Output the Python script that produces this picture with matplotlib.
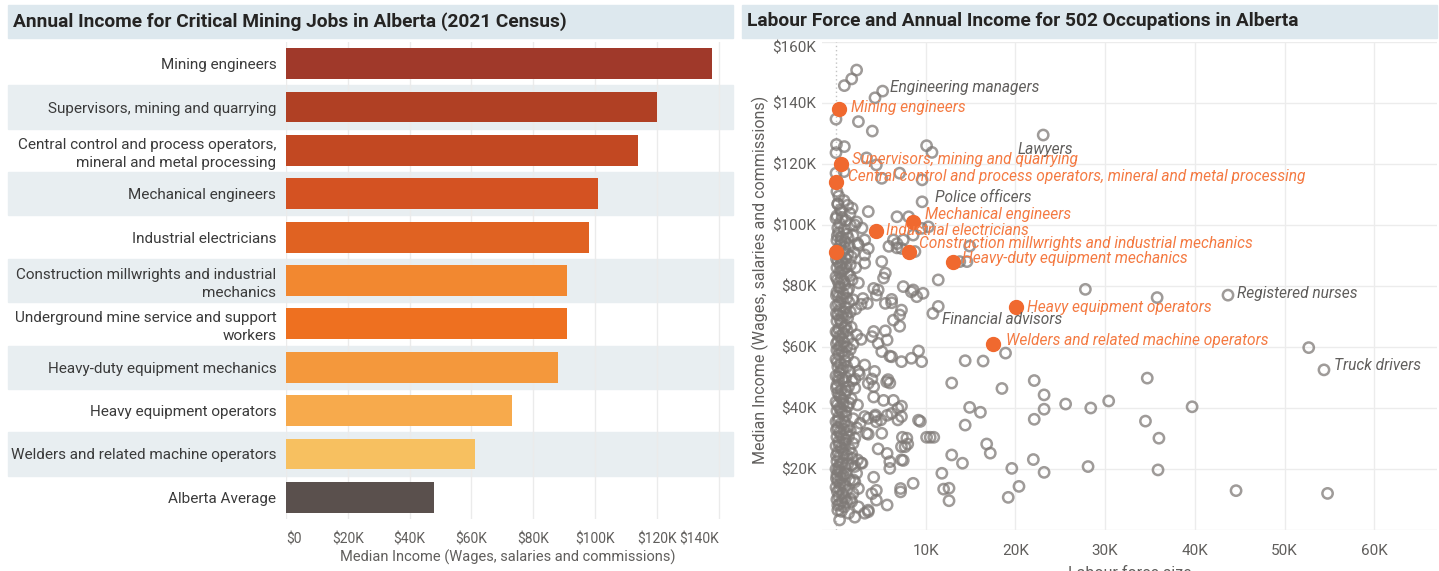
import matplotlib.pyplot as plt
from matplotlib.patches import Rectangle
from matplotlib import transforms

W, H = 1439, 571
plt.rcParams['font.family'] = ['Roboto', 'DejaVu Sans']

# ---- left chart: median income of critical mining jobs ----
jobs = ["Mining engineers",
        "Supervisors, mining and quarrying",
        "Central control and process operators,\nmineral and metal processing",
        "Mechanical engineers",
        "Industrial electricians",
        "Construction millwrights and industrial\nmechanics",
        "Underground mine service and support\nworkers",
        "Heavy-duty equipment mechanics",
        "Heavy equipment operators",
        "Welders and related machine operators",
        "Alberta Average"]
income_k = [138, 120, 114, 101, 98, 91, 91, 88, 73, 61, 48]
bar_colors = ['#a0392a', '#b04024', '#c24822', '#d45222', '#e06222', '#f28830',
              '#ee7020', '#f4983c', '#f7aa4c', '#f7c060', '#5a504d']

# ---- right chart: labour force (K) vs median income (K) ----
# mining jobs (same order as above, without Alberta Average)
mining_force_k = [0.3, 0.6, 0.05, 8.55, 4.5, 8.1, 0.05, 13.0, 20.1, 17.5]
mining_label_offset = [(12, 2), (11, 4), (12, 6), (12, 7), (10, 1), (10, 9), None, (9, 3), (11, 0), (13, 3)]

labelled_occ = ["Engineering managers", "Lawyers", "Police officers",
                "Registered nurses", "Financial advisors", "Truck drivers"]
labelled_force_k = [5.2, 23.1, 9.6, 43.7, 10.8, 54.4]
labelled_income_k = [143.9, 129.5, 107.6, 77.0, 71.0, 52.5]
labelled_offset = [(7, 4), (-26, -14), (13, 4), (9, 2), (9, -6), (10, 4)]

# other occupations (labour force K, income K)
other_occ = [
    (2.3, 150.8), (1.75, 147.9), (0.93, 145.7), (4.35, 141.7), (0.0, 134.7), (2.5, 133.9),
    (4.05, 130.8), (0.05, 126.4), (0.93, 125.7), (0.0, 123.7), (10.1, 126.0), (10.7, 123.8),
    (3.4, 122.0), (0.0, 117.0), (0.9, 117.5), (4.5, 119.7), (5.1, 115.3), (7.1, 117.0),
    (9.6, 114.8), (0.2, 106.8), (0.6, 104.4), (0.0, 102.2), (1.56, 103.8), (3.6, 104.4),
    (6.8, 102.7), (8.1, 102.7), (2.1, 100.0), (2.9, 99.0), (10.3, 99.4), (9.55, 98.9), (8.6, 96.7),
    (14.9, 93.1), (13.8, 88.0), (14.6, 88.0), (11.4, 82.0), (5.1, 88.0), (5.5, 84.2), (5.3, 82.6),
    (3.2, 90.2), (3.2, 87.5), (6.4, 95.1), (5.9, 93.0), (6.8, 92.5), (7.5, 79.8), (8.6, 78.7),
    (9.7, 77.6), (9.0, 76.5), (11.4, 73.3), (4.2, 79.2), (4.7, 78.7), (6.2, 75.6), (3.0, 75.9),
    (3.5, 74.3), (27.8, 78.9), (2.5, 93.4), (3.2, 95.1), (3.6, 92.3), (6.8, 93.9), (7.5, 95.1),
    (7.3, 92.3), (8.8, 91.3), (8.4, 78.1), (4.5, 77.0), (5.5, 74.3), (6.2, 74.5), (35.8, 76.2),
    (7.3, 72.1), (7.1, 70.5), (6.4, 68.8), (7.1, 66.8), (5.5, 65.3), (4.2, 65.1), (5.7, 62.3),
    (4.7, 61.2), (4.0, 63.4),
    (5.1, 58.5), (6.2, 56.8), (8.4, 56.3), (9.2, 58.7), (9.55, 55.2), (7.3, 55.2), (14.4, 55.5),
    (16.4, 55.4), (18.9, 58.0), (6.0, 57.0), (4.3, 52.0), (5.8, 49.3), (4.0, 49.5), (2.5, 52.0),
    (2.1, 49.5), (3.2, 54.1), (12.9, 48.2), (18.5, 46.4), (22.1, 49.0), (52.7, 59.8), (34.7, 49.8),
    (6.0, 48.2), (5.65, 48.6), (3.6, 48.1), (4.2, 47.0),
    (23.2, 44.3), (23.2, 39.6), (22.1, 36.3), (25.6, 41.3), (28.4, 40.0), (30.4, 42.3), (39.7, 40.4),
    (34.5, 35.7), (36.0, 30.1), (14.9, 40.2), (16.1, 38.6), (14.4, 34.4), (6.9, 36.1), (9.2, 36.0),
    (9.4, 35.6), (10.1, 30.4), (10.5, 30.4), (10.9, 30.4), (7.3, 40.6), (6.9, 39.9), (6.4, 42.5),
    (6.2, 38.2), (5.7, 37.6), (5.3, 42.5), (4.2, 43.6), (3.4, 31.7), (3.6, 36.6), (2.7, 35.0),
    (4.4, 37.7), (5.0, 36.1), (7.4, 30.4), (7.9, 30.1), (7.3, 37.2), (4.35, 37.2), (3.2, 37.2),
    (5.1, 31.7), (3.6, 31.4), (4.5, 35.5), (2.1, 30.1), (1.4, 30.6),
    (16.8, 28.2), (17.2, 25.2), (12.9, 24.6), (14.1, 21.9), (11.8, 18.6), (12.0, 13.4), (12.6, 13.7),
    (12.6, 9.6), (19.6, 20.2), (22.0, 23.1), (23.2, 18.9), (28.1, 20.8), (20.4, 14.3), (19.2, 10.7),
    (35.9, 19.7), (44.6, 12.9), (54.8, 12.0), (8.6, 15.3), (7.2, 13.6), (7.2, 12.5), (7.3, 23.0),
    (7.3, 27.3), (8.0, 28.2), (5.7, 25.1), (6.0, 22.4), (6.0, 20.2), (4.7, 26.6), (4.2, 17.3),
    (4.0, 11.9), (4.5, 13.0), (4.5, 9.8), (5.7, 8.2), (3.6, 6.5), (3.2, 5.5), (2.1, 4.2), (0.4, 3.3),
    (2.8, 22.0), (2.3, 18.6), (1.95, 16.4), (2.1, 20.8), (1.6, 10.3), (1.2, 9.2), (3.6, 6.0),
    (2.5, 7.6), (0.6, 6.1), (2.9, 21.9), (1.75, 21.3), (1.75, 25.1), (1.9, 28.4), (2.1, 15.8),
    (2.5, 13.6), (1.9, 12.0), (1.75, 9.3), (7.5, 22.8), (7.7, 27.3),
    # dense column of small occupations
    (0.1, 111), (0.3, 109.5), (0.9, 108), (0.2, 107), (1.3, 106.5), (0.5, 105), (1.8, 105.5),
    (0.1, 103), (0.7, 102.5), (1.1, 101.5), (0.4, 100.5), (1.6, 100), (2.3, 101), (0.2, 99),
    (0.9, 98.5), (0.3, 97.5), (1.2, 97), (0.6, 96), (1.9, 96.5), (0.1, 95), (1.0, 94.5), (2.4, 94),
    (0.5, 93.5), (1.5, 93), (0.2, 92), (0.8, 91.5), (1.3, 90.5), (2.0, 91), (0.4, 89.5), (1.1, 89),
    (0.2, 88), (0.7, 87.5), (1.6, 87), (0.1, 86), (0.9, 85.5), (2.2, 86), (0.4, 84.5), (1.3, 84),
    (0.0, 83), (0.6, 82.5), (1.8, 82), (0.3, 81), (1.0, 80.5), (2.5, 81), (0.5, 79.5), (1.4, 79),
    (0.1, 78), (0.8, 77.5), (0.3, 76.5), (1.2, 76), (1.9, 75.5), (0.5, 74.5), (0.0, 73.5), (1.0, 73),
    (0.4, 72), (1.6, 71.5), (0.2, 70.5), (0.7, 70), (2.2, 72.5), (1.3, 69.5), (2.8, 74),
    (0.1, 68.5), (0.6, 68), (1.1, 67), (0.3, 66), (1.7, 66.5), (0.0, 65), (0.8, 64.5), (0.4, 63.5),
    (1.4, 63), (2.3, 64), (0.2, 62), (0.9, 61.5), (0.5, 60.5), (1.9, 61), (2.8, 62.5), (1.2, 60),
    (0.1, 59), (0.7, 58.5), (0.3, 57.5), (1.3, 57), (0.0, 56), (1.0, 55.5), (0.5, 54.5), (2.0, 55),
    (0.2, 53.5), (0.8, 53), (1.5, 52), (0.4, 51.5), (0.0, 50.5), (1.1, 50), (2.6, 51),
    (0.3, 49), (0.9, 48.5), (0.1, 47.5), (1.4, 47), (0.6, 46), (2.1, 46.5), (0.2, 45), (1.0, 44.5),
    (0.5, 43.5), (1.7, 43), (0.0, 42), (0.8, 41.5), (1.3, 40.5), (0.4, 40), (2.4, 41),
    (0.1, 39), (0.7, 38.5), (1.1, 37.5), (0.3, 37), (1.9, 36.5), (0.0, 35.5), (0.6, 35), (1.4, 34),
    (0.2, 33.5), (0.9, 33), (2.3, 33.5), (0.4, 32), (1.2, 31.5), (0.1, 30.5), (0.8, 30),
    (0.3, 29), (1.0, 28.5), (0.0, 27.5), (0.6, 27), (1.5, 26.5), (0.2, 25.5), (0.9, 25), (0.4, 24),
    (1.8, 23.5), (0.1, 22.5), (0.7, 22), (1.3, 21.5), (0.3, 20.5), (0.0, 20), (2.4, 23),
    (0.5, 19), (0.1, 18), (1.1, 18.5), (0.6, 17), (0.2, 16), (1.5, 16.5), (0.8, 15), (0.0, 14),
    (0.4, 13.5), (1.2, 13), (0.7, 12), (0.3, 11), (1.0, 10.5), (0.1, 10),
    (0.4, 8.5), (0.9, 7.5), (0.2, 6.5), (1.4, 5.5),
    (0.15, 96.5), (0.55, 94.8), (1.35, 95.8), (0.25, 90.8), (0.95, 92.6), (1.7, 89.6), (0.05, 88.9),
    (0.45, 86.8), (1.15, 86.2), (0.65, 84.9), (1.55, 83.4), (0.15, 82.1), (0.85, 81.6), (1.25, 78.4),
    (0.35, 79.6), (0.05, 76.9), (0.6, 75.8), (1.45, 74.6), (0.25, 73.9), (0.85, 71.4), (0.05, 70.9),
    (1.15, 70.6), (0.45, 68.9), (0.95, 66.4), (0.15, 64.6), (1.25, 65.4), (0.65, 62.8), (0.05, 61.1),
    (1.6, 59.2), (0.35, 59.6), (0.95, 57.9), (0.15, 55.1), (0.6, 52.4), (1.2, 53.6), (0.25, 50.1),
    (0.75, 49.6), (1.8, 48.9), (0.05, 46.6), (1.15, 45.6), (0.35, 44.1), (0.75, 42.8), (1.5, 41.6),
    (0.15, 41.1), (0.55, 39.4), (1.05, 38.9), (0.25, 35.9), (0.95, 35.4), (1.6, 32.6), (0.05, 32.9),
    (0.55, 31.1), (1.05, 29.6), (0.35, 27.9), (0.75, 26.1), (1.2, 24.6), (0.05, 24.4), (0.45, 21.6),
    (1.0, 20.4), (0.25, 19.4), (0.8, 17.9), (0.05, 16.9), (0.45, 15.1), (1.0, 14.4), (0.15, 12.6),
    (0.65, 9.4), (0.2, 8.1),
]


def px_box(left, top, right, bottom):
    return [left / W, 1 - bottom / H, (right - left) / W, (bottom - top) / H]


fig = plt.figure(figsize=(W / 100, H / 100), dpi=100)
fig.patch.set_facecolor('white')

title_bg = '#dde8ee'
band_bg = '#e8eef1'
txt_dark = '#3a3a3a'
txt_grey = '#605e5c'

# title bars
for left, right, title in [(8, 733, "Annual Income for Critical Mining Jobs in Alberta (2021 Census)"),
                           (742, 1437, "Labour Force and Annual Income for 502 Occupations in Alberta")]:
    fig.patches.append(Rectangle((left / W, 1 - 38 / H), (right - left) / W, 33 / H,
                                 transform=fig.transFigure, color=title_bg, zorder=0))
    fig.text((left + 5) / W, 1 - 21.5 / H, title, fontsize=13.8, fontweight='bold',
             color='#252423', va='center', ha='left')

# ---------------- bar chart ----------------
ax = fig.add_axes(px_box(286, 42, 731, 519))
ax.set_facecolor('none')
rows = list(range(len(jobs)))
ax.barh(rows, [v * 1000 for v in income_k], height=0.71, color=bar_colors, zorder=3)
ax.set_ylim(len(jobs) - 0.5, -0.5)
ax.set_xlim(0, 144000)

band_tr = transforms.blended_transform_factory(fig.transFigure, ax.transData)
for i in rows:
    if i % 2 == 1:
        ax.add_patch(Rectangle((8 / W, i - 0.5), (733 - 8) / W, 1, transform=band_tr,
                               color=band_bg, zorder=0, clip_on=False))

ax.set_yticks(rows)
ax.set_yticklabels(jobs, fontsize=11, color=txt_dark, linespacing=1.35)
xt = list(range(0, 140001, 20000))
ax.set_xticks(xt)
ax.set_xticklabels(['$0'] + ['$%dK' % (v // 1000) for v in xt[1:]], fontsize=10, color=txt_grey)
ax.get_xticklabels()[0].set_ha('left')
ax.get_xticklabels()[-1].set_ha('right')
ax.tick_params(axis='y', length=0, pad=7)
ax.tick_params(axis='x', length=0, pad=10)
ax.grid(axis='x', color='#ebebeb', lw=1, zorder=1)
ax.set_axisbelow(True)
for s in ax.spines.values():
    s.set_visible(False)
fig.text(508 / W, 1 - 557 / H, "Median Income (Wages, salaries and commissions)",
         fontsize=10.5, color=txt_grey, ha='center', va='center')

# ---------------- scatter ----------------
sx = fig.add_axes(px_box(822, 42, 1437, 530))
sx.set_xlim(-1.56, 67.0)
sx.set_ylim(0, 160)
for s in sx.spines.values():
    s.set_visible(False)
sx.set_xticks([10, 20, 30, 40, 50, 60])
sx.set_xticklabels(['%dK' % v for v in [10, 20, 30, 40, 50, 60]], fontsize=11, color=txt_grey)
yt = [0, 20, 40, 60, 80, 100, 120, 140, 160]
sx.set_yticks(yt)
sx.set_yticklabels([''] + ['$%dK' % v for v in yt[1:]], fontsize=11, color=txt_grey)
sx.get_yticklabels()[-1].set_va('top')
sx.tick_params(length=0)
sx.tick_params(axis='x', pad=10)
sx.tick_params(axis='y', pad=4)
sx.grid(color='#ececec', lw=1)
sx.set_axisbelow(True)
sx.axvline(0, color='#c4c4c4', lw=1, ls=(0, (1, 2)), zorder=1)

ox = [p[0] for p in other_occ]
oy = [p[1] for p in other_occ]
sx.scatter(ox + labelled_force_k, oy + labelled_income_k, s=55, facecolors='none',
           edgecolors='#7f7a77', linewidths=1.8, alpha=0.75, zorder=2)
sx.scatter(mining_force_k, income_k[:10], s=100, color='#f0692f', zorder=3)

for name, x, y, off in zip(jobs[:10], mining_force_k, income_k[:10], mining_label_offset):
    if off is None:
        continue
    sx.annotate(name.replace('\n', ' '), (x, y), xytext=off, textcoords='offset pixels',
                fontsize=11.2, style='italic', color='#f47a42', va='center', ha='left', zorder=4)
for name, x, y, off in zip(labelled_occ, labelled_force_k, labelled_income_k, labelled_offset):
    sx.annotate(name, (x, y), xytext=off, textcoords='offset pixels',
                fontsize=11.2, style='italic', color=txt_grey, va='center', ha='left', zorder=4)

fig.text(760 / W, 1 - 280 / H, "Median Income (Wages, salaries and commissions)",
         fontsize=11.5, color=txt_grey, ha='center', va='center', rotation=90)
fig.text(1130 / W, 1 - 574 / H, "Labour force size", fontsize=11.5, color=txt_grey,
         ha='center', va='center')

fig.savefig('out.png', dpi=100, facecolor='white')
